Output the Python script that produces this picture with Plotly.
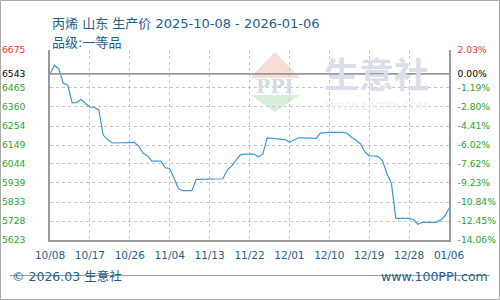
import pandas as pd
import plotly.graph_objects as go

start_date = "2025-10-08"
end_date = "2026-01-06"
prices = [
    6543, 6589, 6570, 6491, 6481, 6382, 6384, 6402, 6379, 6358,
    6358, 6343, 6204, 6179, 6160, 6160, 6160, 6160, 6160, 6164,
    6143, 6103, 6090, 6060, 6060, 6060, 6023, 6019, 5963, 5907,
    5896, 5896, 5896, 5959, 5960, 5960, 5961, 5961, 5962, 5962,
    6011, 6033, 6066, 6096, 6099, 6099, 6099, 6084, 6098, 6189,
    6186, 6181, 6181, 6179, 6164, 6175, 6189, 6188, 6188, 6187,
    6186, 6215, 6219, 6219, 6219, 6219, 6219, 6214, 6192, 6177,
    6156, 6112, 6088, 6088, 6086, 6062, 5990, 5937, 5743, 5743,
    5743, 5743, 5735, 5710, 5721, 5721, 5721, 5721, 5733, 5753,
    5798,
]
dates = pd.date_range(start_date, end_date, freq="D")

y_ticks = [6675, 6543, 6465, 6360, 6254, 6149, 6044, 5939, 5833, 5728, 5623]
pct_labels = ["2.03%", "0.00%", "-1.19%", "-2.80%", "-4.41%", "-6.02%",
              "-7.62%", "-9.23%", "-10.84%", "-12.45%", "-14.06%"]
x_ticks = ["2025-10-08", "2025-10-17", "2025-10-26", "2025-11-04", "2025-11-13",
           "2025-11-22", "2025-12-01", "2025-12-10", "2025-12-19", "2025-12-28",
           "2026-01-06"]
x_labels = ["10/08", "10/17", "10/26", "11/04", "11/13", "11/22", "12/01",
            "12/10", "12/19", "12/28", "01/06"]
base_price = 6543

title_text = "丙烯 山东 生产价 2025-10-08 - 2026-01-06"
grade_text = "品级:一等品"
footer_left = "© 2026.03 生意社"
footer_right = "www.100PPI.com"

RED = "#ff2a2a"
GREEN = "#2aa52a"
BLACK = "#000000"
BLUE_TXT = "#1d5e8e"


def colored(vals, texts):
    out = []
    for v, t in zip(vals, texts):
        c = RED if v > base_price else (BLACK if v == base_price else GREEN)
        out.append(f"<span style='color:{c}'>{t}</span>")
    return out


FONT = "DejaVu Sans, Noto Sans CJK SC, sans-serif"

# plot area in pixels: x 50..449, y 50..240
L, R, T, B = 50, 449, 50, 240
W, H = R - L, B - T


def px_x(p):
    return (p - L) / W


def px_y(p):
    return (B - p) / H


fig = go.Figure()

# watermark
fig.add_shape(type="path", xref="paper", yref="paper",
              path=f"M {px_x(275)},{px_y(52)} L {px_x(300)},{px_y(78)} L {px_x(250)},{px_y(78)} Z",
              fillcolor="#f8dcd6", line=dict(width=0), layer="below")
fig.add_shape(type="path", xref="paper", yref="paper",
              path=f"M {px_x(250)},{px_y(95)} L {px_x(300)},{px_y(95)} L {px_x(275)},{px_y(112)} Z",
              fillcolor="#d8efdc", line=dict(width=0), layer="below")
fig.add_annotation(x=px_x(275), y=px_y(86), xref="paper", yref="paper",
                   xanchor="center", yanchor="middle",
                   text="<b>PPI</b>", showarrow=False,
                   font=dict(family="DejaVu Serif, serif", size=19, color="#d3d9e6"))
fig.add_annotation(x=px_x(322), y=px_y(72), xref="paper", yref="paper",
                   xanchor="left", yanchor="middle",
                   text="<b>生意社</b>", showarrow=False,
                   font=dict(family="Noto Sans CJK SC", size=35, color="#dadee8"))
fig.add_annotation(x=px_x(324), y=px_y(106), xref="paper", yref="paper",
                   xanchor="left", yanchor="middle",
                   text="WWW.100PPI.COM", showarrow=False,
                   font=dict(family=FONT, size=11, color="#eeeeee"))

fig.add_trace(go.Scatter(
    x=dates, y=prices, mode="lines",
    line=dict(color="#3a98d8", width=1.2),
    hoverinfo="skip", showlegend=False,
))
fig.add_trace(go.Scatter(
    x=dates, y=prices, mode="lines", yaxis="y2",
    line=dict(color="rgba(0,0,0,0)", width=0),
    hoverinfo="skip", showlegend=False,
))

# baseline
fig.add_shape(type="line", xref="paper", yref="y", x0=0, x1=1,
              y0=base_price, y1=base_price,
              line=dict(color="#999999", width=1.6))

fig.update_layout(
    width=500, height=300,
    margin=dict(l=L, r=500 - R, t=T, b=300 - B, autoexpand=False),
    paper_bgcolor="white", plot_bgcolor="white",
    font=dict(family=FONT, size=10, color=BLUE_TXT),
    xaxis=dict(
        range=[start_date, end_date], tickvals=x_ticks, ticktext=x_labels,
        showgrid=True, gridcolor="#c4c4c4", griddash="3px,3px", gridwidth=1,
        showline=True, linecolor="#999999", linewidth=1.5, mirror=False,
        ticks="outside", ticklen=5, tickcolor="rgba(0,0,0,0)",
        tickfont=dict(size=10.5, color=BLUE_TXT), zeroline=False,
        automargin=False,
    ),
    yaxis=dict(
        range=[y_ticks[-1], y_ticks[0]], tickvals=y_ticks,
        ticktext=colored(y_ticks, [str(v) for v in y_ticks]),
        showgrid=True, gridcolor="#c4c4c4", griddash="3px,3px", gridwidth=1,
        showline=True, linecolor="#999999", linewidth=1.5,
        ticks="outside", ticklen=21, tickcolor="rgba(0,0,0,0)",
        tickfont=dict(size=9.2), zeroline=False, automargin=False,
    ),
    yaxis2=dict(
        range=[y_ticks[-1], y_ticks[0]], tickvals=y_ticks,
        ticktext=colored(y_ticks, pct_labels),
        overlaying="y", side="right", showgrid=False,
        showline=True, linecolor="#999999", linewidth=1.5,
        ticks="outside", ticklen=5, tickcolor="rgba(0,0,0,0)",
        tickfont=dict(size=9.2), zeroline=False, automargin=False,
    ),
)

# titles
fig.add_annotation(x=0, y=px_y(14), xref="paper", yref="paper", xanchor="left",
                   text=title_text, showarrow=False,
                   font=dict(family=FONT, size=13, color=BLUE_TXT))
fig.add_annotation(x=0, y=px_y(33), xref="paper", yref="paper", xanchor="left",
                   text=grade_text, showarrow=False,
                   font=dict(family=FONT, size=13, color=BLUE_TXT))

# footer
fig.add_shape(type="line", xref="paper", yref="paper",
              x0=px_x(10), x1=px_x(490), y0=px_y(275.5), y1=px_y(275.5),
              line=dict(color="#999999", width=1.2))
fig.add_annotation(x=px_x(10), y=px_y(286), xref="paper", yref="paper", xanchor="left",
                   text=footer_left, showarrow=False,
                   font=dict(family=FONT, size=12.5, color=BLUE_TXT))
fig.add_annotation(x=px_x(490), y=px_y(286), xref="paper", yref="paper", xanchor="right",
                   text=footer_right, showarrow=False,
                   font=dict(family=FONT, size=12.5, color=BLUE_TXT))

# outer border
fig.add_shape(type="rect", xref="paper", yref="paper",
              x0=px_x(0.5), x1=px_x(499.5), y0=px_y(299.5), y1=px_y(0.5),
              line=dict(color="#aaaaaa", width=1))

fig.write_html("out.html")
